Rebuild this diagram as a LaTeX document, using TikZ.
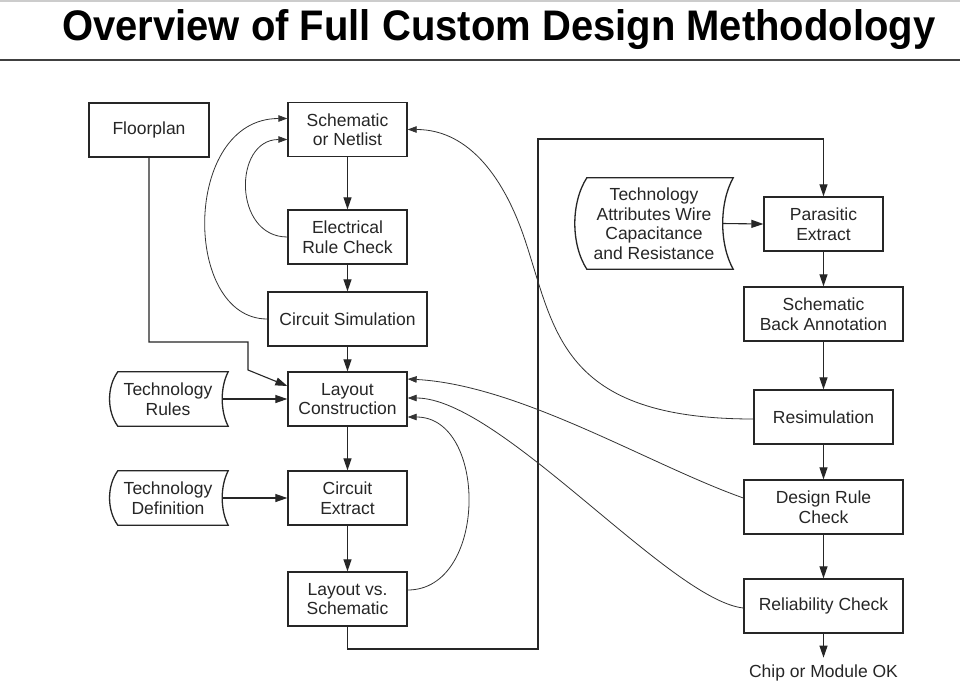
\documentclass[tikz,border=0pt]{standalone}
\usepackage{graphicx}
\usepackage{fontspec}
\setmainfont{Liberation Sans}
\usetikzlibrary{arrows.meta,calc}
\begin{document}
\begin{tikzpicture}[x=1pt,y=-1pt,
  box/.style={draw=black!85, line width=1.3pt, align=center, inner sep=0pt, text=black!85,
    font=\fontsize{17.5}{19.5}\selectfont, minimum height=54pt, minimum width=119pt},
  tapetext/.style={align=center, inner sep=0pt, text=black!85,
    font=\fontsize{17.5}{19.5}\selectfont, minimum height=54pt, minimum width=120pt},
  tapeline/.style={draw=black!85, line width=1.3pt},
  arr/.style={draw=black!85, line width=1.1pt, -{Triangle[length=12pt,width=8pt]}},
  carr/.style={draw=black!80, line width=0.8pt, -{Triangle[length=9pt,width=6.5pt]}},
]
\useasboundingbox (0,0) rectangle (960,688);
\fill[white] (0,0) rectangle (960,688);
\draw[black!20, line width=2pt] (0,1) -- (960,1);

% title
\node[anchor=base west, inner sep=0pt] (title) at (62,40)
  {\resizebox{873pt}{31pt}{\bfseries Overview of Full Custom Design Methodology}};
\draw[black!75, line width=2pt] (0,60) -- (960,60);

% left column
\node[box, minimum width=120pt] (floor) at (149,130) {Floorplan};
\node[box] (sch) at (347.5,129.5) {Schematic\\or Netlist};
\node[box] (erc) at (347.5,237) {Electrical\\Rule Check};
\node[box, minimum width=159pt] (sim) at (347.5,319) {Circuit Simulation};
\node[box] (lc) at (347.5,399) {Layout\\Construction};
\node[box] (ce) at (347.5,498) {Circuit\\Extract};
\node[box] (lvs) at (347.5,599) {Layout vs.\\Schematic};

% tapes left
\node[tapetext] (tr) at (168,399) {Technology\\Rules};
\node[tapetext] (td) at (168,498) {Technology\\Definition};
\foreach \n in {tr,td}{
  \draw[tapeline] ($(\n.north west)+(10,0)$) -- (\n.north east)
    .. controls +(-8,15) and +(-8,-15) .. (\n.south east)
    -- ($(\n.south west)+(10,0)$)
    .. controls +(-11,-15) and +(-11,15) .. ($(\n.north west)+(10,0)$) -- cycle;
}

% right column
\node[box] (pe) at (823.5,224) {Parasitic\\Extract};
\node[box, minimum width=159pt] (sba) at (823.5,314) {Schematic\\Back Annotation};
\node[box, minimum width=139pt] (res) at (823.5,417) {Resimulation};
\node[box, minimum width=159pt] (drc) at (823.5,507) {Design Rule\\Check};
\node[box, minimum width=159pt] (rel) at (823.5,606) {Reliability Check};
\node[inner sep=0pt, text=black!85, font=\fontsize{17.5}{19.5}\selectfont] (ok) at (823.5,673) {Chip or Module OK};

\node[tapetext, minimum width=158pt, minimum height=91pt] (ta) at (654,223.5)
  {Technology\\Attributes Wire\\Capacitance\\and Resistance};
\draw[tapeline] ($(ta.north west)+(12,0)$) -- (ta.north east)
    .. controls +(-14,25) and +(-14,-25) .. (ta.south east)
    -- ($(ta.south west)+(12,0)$)
    .. controls +(-16,-25) and +(-16,25) .. ($(ta.north west)+(12,0)$) -- cycle;

% straight arrows
\draw[arr] (sch) -- (erc);
\draw[arr] (erc) -- (sim);
\draw[arr] (sim) -- (lc);
\draw[arr] (lc) -- (ce);
\draw[arr] (ce) -- (lvs);
\draw[arr] ($(tr.east)+(-6,0)$) -- (lc.west);
\draw[arr] ($(td.east)+(-6,0)$) -- (ce.west);
\draw[arr] ($(ta.east)+(-11,0)$) -- (pe.west);
\draw[arr] (pe) -- (sba);
\draw[arr] (sba) -- (res);
\draw[arr] (res) -- (drc);
\draw[arr] (drc) -- (rel);
\draw[arr, shorten >=7pt] (rel) -- (ok);

% floorplan feed
\coordinate (fa) at (149,342);
\coordinate (fb) at (248,342);
\coordinate (fc) at (248,370);
\draw[arr] (floor.south) -- (fa) -- (fb) -- (fc) -- ($(lc.west)+(0,-13)$);

% bus from LVS to parasitic extract
\coordinate (ba) at (347.5,649);
\coordinate (bb) at (538,649);
\coordinate (bc) at (538,139);
\draw[arr] (lvs.south) -- (ba) -- (bb) -- (bc) -| (pe.north);

% feedback curves
\draw[carr] (erc.west) .. controls (233,237) and (233,139.5) .. ($(sch.west)+(0,10)$);
\draw[carr] (sim.west) .. controls (182,319) and (182,118.5) .. ($(sch.west)+(0,-11)$);
\draw[carr] ($(lvs.east)+(0,-9)$) .. controls (488,590) and (488,417) .. ($(lc.east)+(0,18)$);
\draw[carr] ($(res.west)+(0,2)$) .. controls (560,419) and (555,330) .. (525,240)
   .. controls (505,180) and (470,129.5) .. (sch.east);
\draw[carr] ($(drc.west)+(0,-9)$) .. controls (650,465) and (520,385) .. ($(lc.east)+(0,-20)$);
\draw[carr] ($(rel.west)+(0,2)$) .. controls (670,600) and (500,398) .. ($(lc.east)+(0,-1)$);
\end{tikzpicture}
\end{document}
